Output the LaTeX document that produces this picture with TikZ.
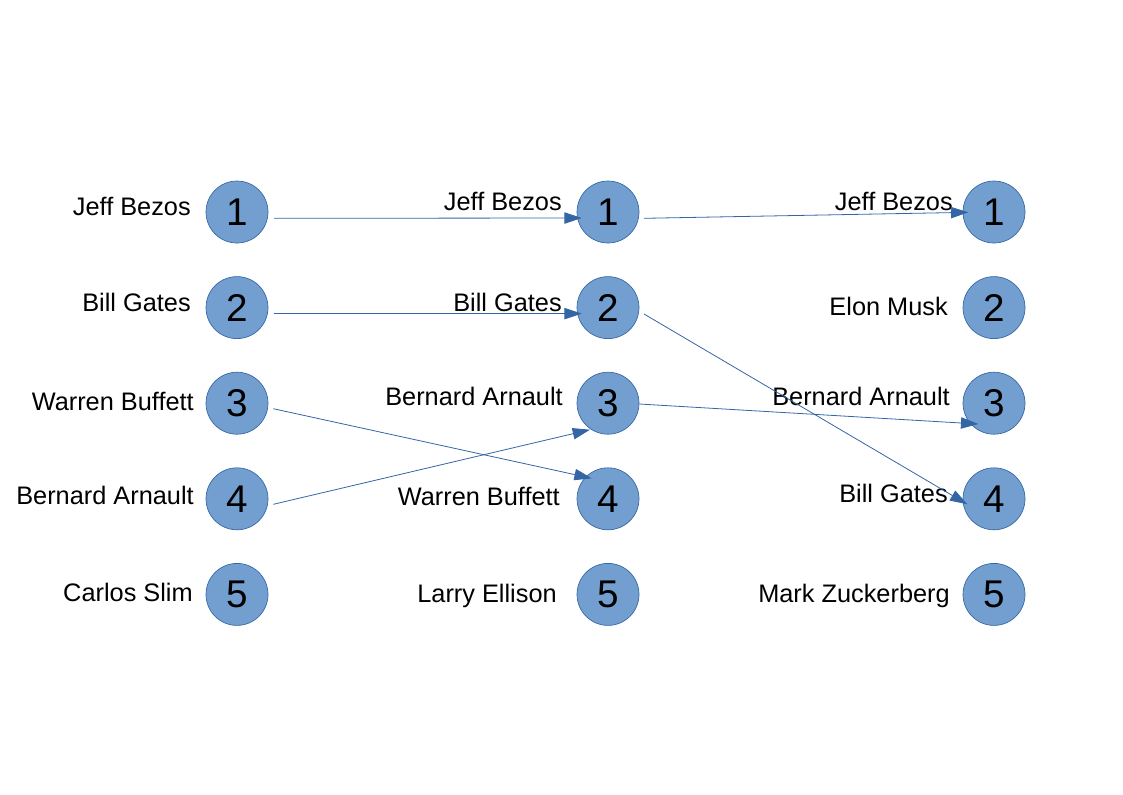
\documentclass[tikz,border=0pt]{standalone}
\usepackage{fontspec}
\setmainfont{Liberation Sans}
\usetikzlibrary{arrows.meta}
\definecolor{ball}{HTML}{729FCF}
\definecolor{rim}{HTML}{3465A4}
\tikzset{rk/.style={circle,draw=rim,fill=ball,line width=.5pt,minimum size=46.5pt,inner sep=0pt,font=\fontsize{29}{30}\selectfont},
 who/.style={anchor=base east,inner sep=0pt,font=\fontsize{19}{21}\selectfont},
 flow/.style={-{Triangle[length=13pt,width=8.5pt]},draw=rim,line width=.6pt}}
\begin{document}
\begin{tikzpicture}[x=.75pt,y=-.75pt]
\useasboundingbox (0,0) rectangle (1123,794);
\foreach \i in {1,...,5}{
 \pgfmathsetmacro{\y}{212+95.6*(\i-1)}
 \node[rk](l\i) at (237,\y){\i};\node[rk](m\i) at (608,\y){\i};\node[rk](r\i) at (994,\y){\i};}
% left column
\node[who](la1) at (191,215){Jeff Bezos};\node[who](la2) at (191,311.7){Bill Gates};
\node[who](la3) at (194,410){Warren Buffett};\node[who](la4) at (194,504){Bernard Arnault};
\node[who](la5) at (193,601.7){Carlos Slim};
% middle column
\node[who](ma1) at (562,210){Jeff Bezos};\node[who](ma2) at (562,311.7){Bill Gates};
\node[who](ma3) at (563,405){Bernard Arnault};\node[who](ma4) at (560,505){Warren Buffett};
\node[who](ma5) at (557,602){Larry Ellison};
% right column
\node[who](ra1) at (953,210.7){Jeff Bezos};\node[who](ra2) at (948,315){Elon Musk};
\node[who](ra3) at (950,405.7){Bernard Arnault};\node[who](ra4) at (948,502){Bill Gates};
\node[who](ra5) at (950,602.7){Mark Zuckerberg};
% moves
\draw[flow]([shift={(37,6.3)}]l1.center)--([shift={(-26.3,6)}]m1.center);
\draw[flow]([shift={(37,6)}]l2.center)--([shift={(-26.3,6)}]m2.center);
\draw[flow]([shift={(36.3,5.5)}]l3.center)--([shift={(-16.3,-20.5)}]m4.center);
\draw[flow]([shift={(36.3,5.5)}]l4.center)--([shift={(-18,26.5)}]m3.center);
\draw[flow]([shift={(36,6.3)}]m1.center)--([shift={(-25.7,0.3)}]r1.center);
\draw[flow]([shift={(36,6.4)}]m2.center)--([shift={(-26.7,5.5)}]r4.center);
\draw[flow]([shift={(31.3,0.8)}]m3.center)--([shift={(-15.7,20.8)}]r3.center);
\end{tikzpicture}
\end{document}
